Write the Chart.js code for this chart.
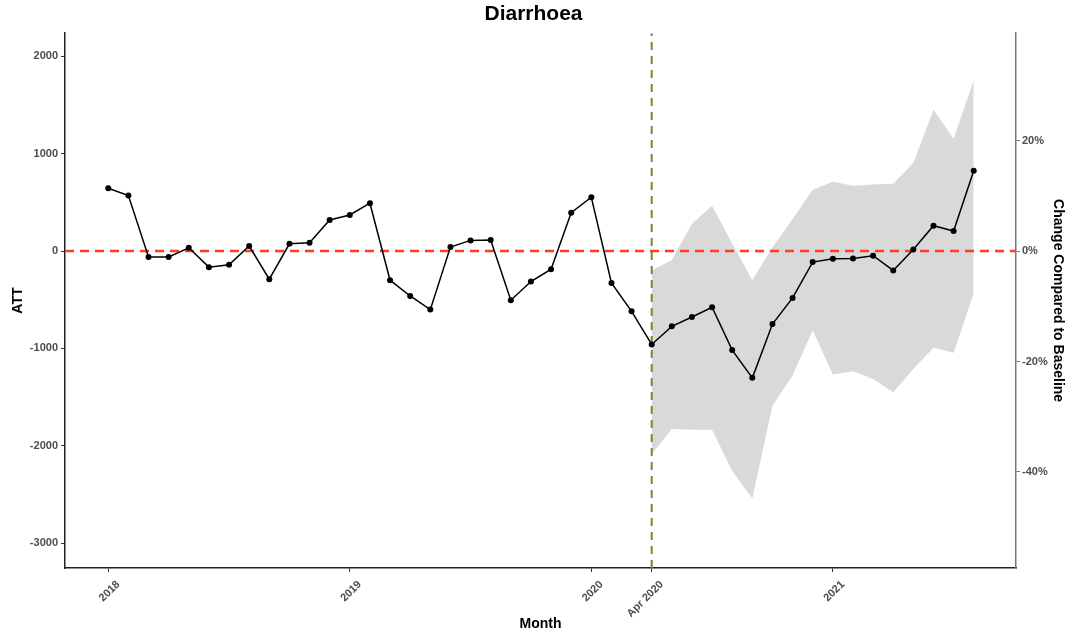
<!DOCTYPE html>
<html>
<head>
<meta charset="utf-8">
<script src="https://cdn.jsdelivr.net/npm/chart.js@4/dist/chart.umd.min.js"></script>
<style>
  body { margin: 0; background: #fff; }
  canvas { display: block; }
</style>
</head>
<body>
<canvas id="att" width="1067" height="636"></canvas>
<script>
// monthly series, Jan 2018 .. Aug 2021
var months = [
    'Jan 2018', 'Feb 2018', 'Mar 2018', 'Apr 2018', 'May 2018', 'Jun 2018',
    'Jul 2018', 'Aug 2018', 'Sep 2018', 'Oct 2018', 'Nov 2018', 'Dec 2018',
    'Jan 2019', 'Feb 2019', 'Mar 2019', 'Apr 2019', 'May 2019', 'Jun 2019',
    'Jul 2019', 'Aug 2019', 'Sep 2019', 'Oct 2019', 'Nov 2019', 'Dec 2019',
    'Jan 2020', 'Feb 2020', 'Mar 2020', 'Apr 2020', 'May 2020', 'Jun 2020',
    'Jul 2020', 'Aug 2020', 'Sep 2020', 'Oct 2020', 'Nov 2020', 'Dec 2020',
    'Jan 2021', 'Feb 2021', 'Mar 2021', 'Apr 2021', 'May 2021', 'Jun 2021',
    'Jul 2021', 'Aug 2021'
];
var att = [
    645, 570, -60, -60, 34, -165, -141, 52, -289, 75, 86, 320,
    371, 492, -299, -461, -601, 41, 110, 113, -505, -313, -186, 395,
    553, -327, -619, -959, -773, -677, -577, -1017, -1302, -749, -481, -113,
    -79, -76, -48, -199, 17, 261, 206, 825
];

// confidence band, starts at the intervention month (Apr 2020)
var bandStart = 27;
var bandUpper = [-200, -92, 280, 466, 79, -300, 40, 330, 629, 711, 670, 684, 691, 904, 1454, 1155, 1756];
var bandLower = [-2086, -1828, -1835, -1835, -2258, -2540, -1588, -1278, -814, -1268, -1234, -1313, -1450, -1210, -993, -1045, -436];

var attTicks = [2000, 1000, 0, -1000, -2000, -3000];
var pctTicks = [20, 0, -20, -40];
var xTickPos = [0, 12, 24, 27, 36];
var xTickLabels = ['2018', '2019', '2020', 'Apr 2020', '2021'];

var attMin = -3255, attMax = 2238;
var xMin = -2.15, xMax = 45.1;
var baseline = 5670; // ATT that equals 100% change

var FONT = "'Liberation Sans', Arial, sans-serif";
Chart.defaults.font.family = FONT;

var mainData = att.map((v, i) => ({ x: i, y: v }));
var upperData = bandUpper.map((v, i) => ({ x: bandStart + i, y: v }));
var lowerData = bandLower.map((v, i) => ({ x: bandStart + i, y: v }));

var ctx = document.getElementById('att').getContext('2d');

new Chart(ctx, {
    type: 'line',
    data: {
        datasets: [
            {
                label: 'ATT',
                data: mainData,
                borderColor: '#000',
                borderWidth: 1.5,
                pointRadius: 3,
                pointBackgroundColor: '#000',
                pointBorderWidth: 0,
                fill: false
            },
            {
                label: 'intervention',
                data: [{ x: bandStart, y: attMin }, { x: bandStart, y: attMax }],
                borderColor: '#6b8e23',
                borderWidth: 2,
                borderDash: [8, 6],
                pointRadius: 0,
                fill: false
            },
            {
                label: 'zero',
                data: [{ x: xMin, y: 0 }, { x: xMax, y: 0 }],
                borderColor: '#ff3b22',
                borderWidth: 2.5,
                borderDash: [9, 6],
                pointRadius: 0,
                fill: false
            },
            {
                label: 'upper',
                data: upperData,
                borderWidth: 0,
                borderColor: 'rgba(0,0,0,0)',
                backgroundColor: '#d9d9d9',
                pointRadius: 0,
                fill: '+1'
            },
            {
                label: 'lower',
                data: lowerData,
                borderWidth: 0,
                borderColor: 'rgba(0,0,0,0)',
                pointRadius: 0,
                fill: false
            }
        ]
    },
    options: {
        responsive: false,
        animation: false,
        layout: { padding: 0 },
        scales: {
            x: {
                type: 'linear',
                min: xMin,
                max: xMax,
                afterBuildTicks: s => { s.ticks = xTickPos.map(v => ({ value: v })); },
                afterFit: s => { s.height = 68; },
                ticks: {
                    autoSkip: false,
                    minRotation: 45,
                    maxRotation: 45,
                    padding: 6,
                    labelOffset: 10,
                    color: '#4d4d4d',
                    font: { size: 11, weight: 'bold' },
                    callback: v => xTickLabels[xTickPos.indexOf(v)]
                },
                grid: { drawOnChartArea: false, tickLength: 4, color: '#333' },
                border: { color: '#222', width: 1.5 },
                title: {
                    display: true,
                    text: 'Month',
                    color: '#000',
                    font: { size: 14, weight: 'bold' },
                    padding: { top: 0, bottom: 3 }
                }
            },
            y: {
                position: 'left',
                min: attMin,
                max: attMax,
                afterBuildTicks: s => { s.ticks = attTicks.map(v => ({ value: v })); },
                afterFit: s => { s.width = 65; },
                ticks: {
                    padding: 3,
                    color: '#4d4d4d',
                    font: { size: 11, weight: 'bold' },
                    callback: v => String(v)
                },
                grid: { drawOnChartArea: false, tickLength: 4, color: '#333' },
                border: { color: '#222', width: 1.5 },
                title: {
                    display: true,
                    text: 'ATT',
                    color: '#000',
                    font: { size: 14, weight: 'bold' },
                    padding: { top: 10, bottom: 0 }
                }
            },
            y2: {
                position: 'right',
                min: attMin / baseline * 100,
                max: attMax / baseline * 100,
                afterBuildTicks: s => { s.ticks = pctTicks.map(v => ({ value: v })); },
                afterFit: s => { s.width = 51; },
                ticks: {
                    padding: 2,
                    color: '#4d4d4d',
                    font: { size: 11, weight: 'bold' },
                    callback: v => v + '%'
                },
                grid: { drawOnChartArea: false, tickLength: 4, color: '#777' },
                border: { color: '#777', width: 1.5 },
                title: {
                    display: true,
                    text: 'Change Compared to Baseline',
                    color: '#000',
                    font: { size: 14, weight: 'bold' },
                    padding: { top: 1, bottom: 0 }
                }
            }
        },
        plugins: {
            legend: { display: false },
            tooltip: {
                callbacks: {
                    title: items => months[items[0].parsed.x] || ''
                }
            },
            title: {
                display: true,
                text: 'Diarrhoea',
                color: '#000',
                font: { size: 21, weight: 'bold' },
                padding: { top: 2, bottom: 6 }
            }
        }
    }
});
</script>
</body>
</html>
